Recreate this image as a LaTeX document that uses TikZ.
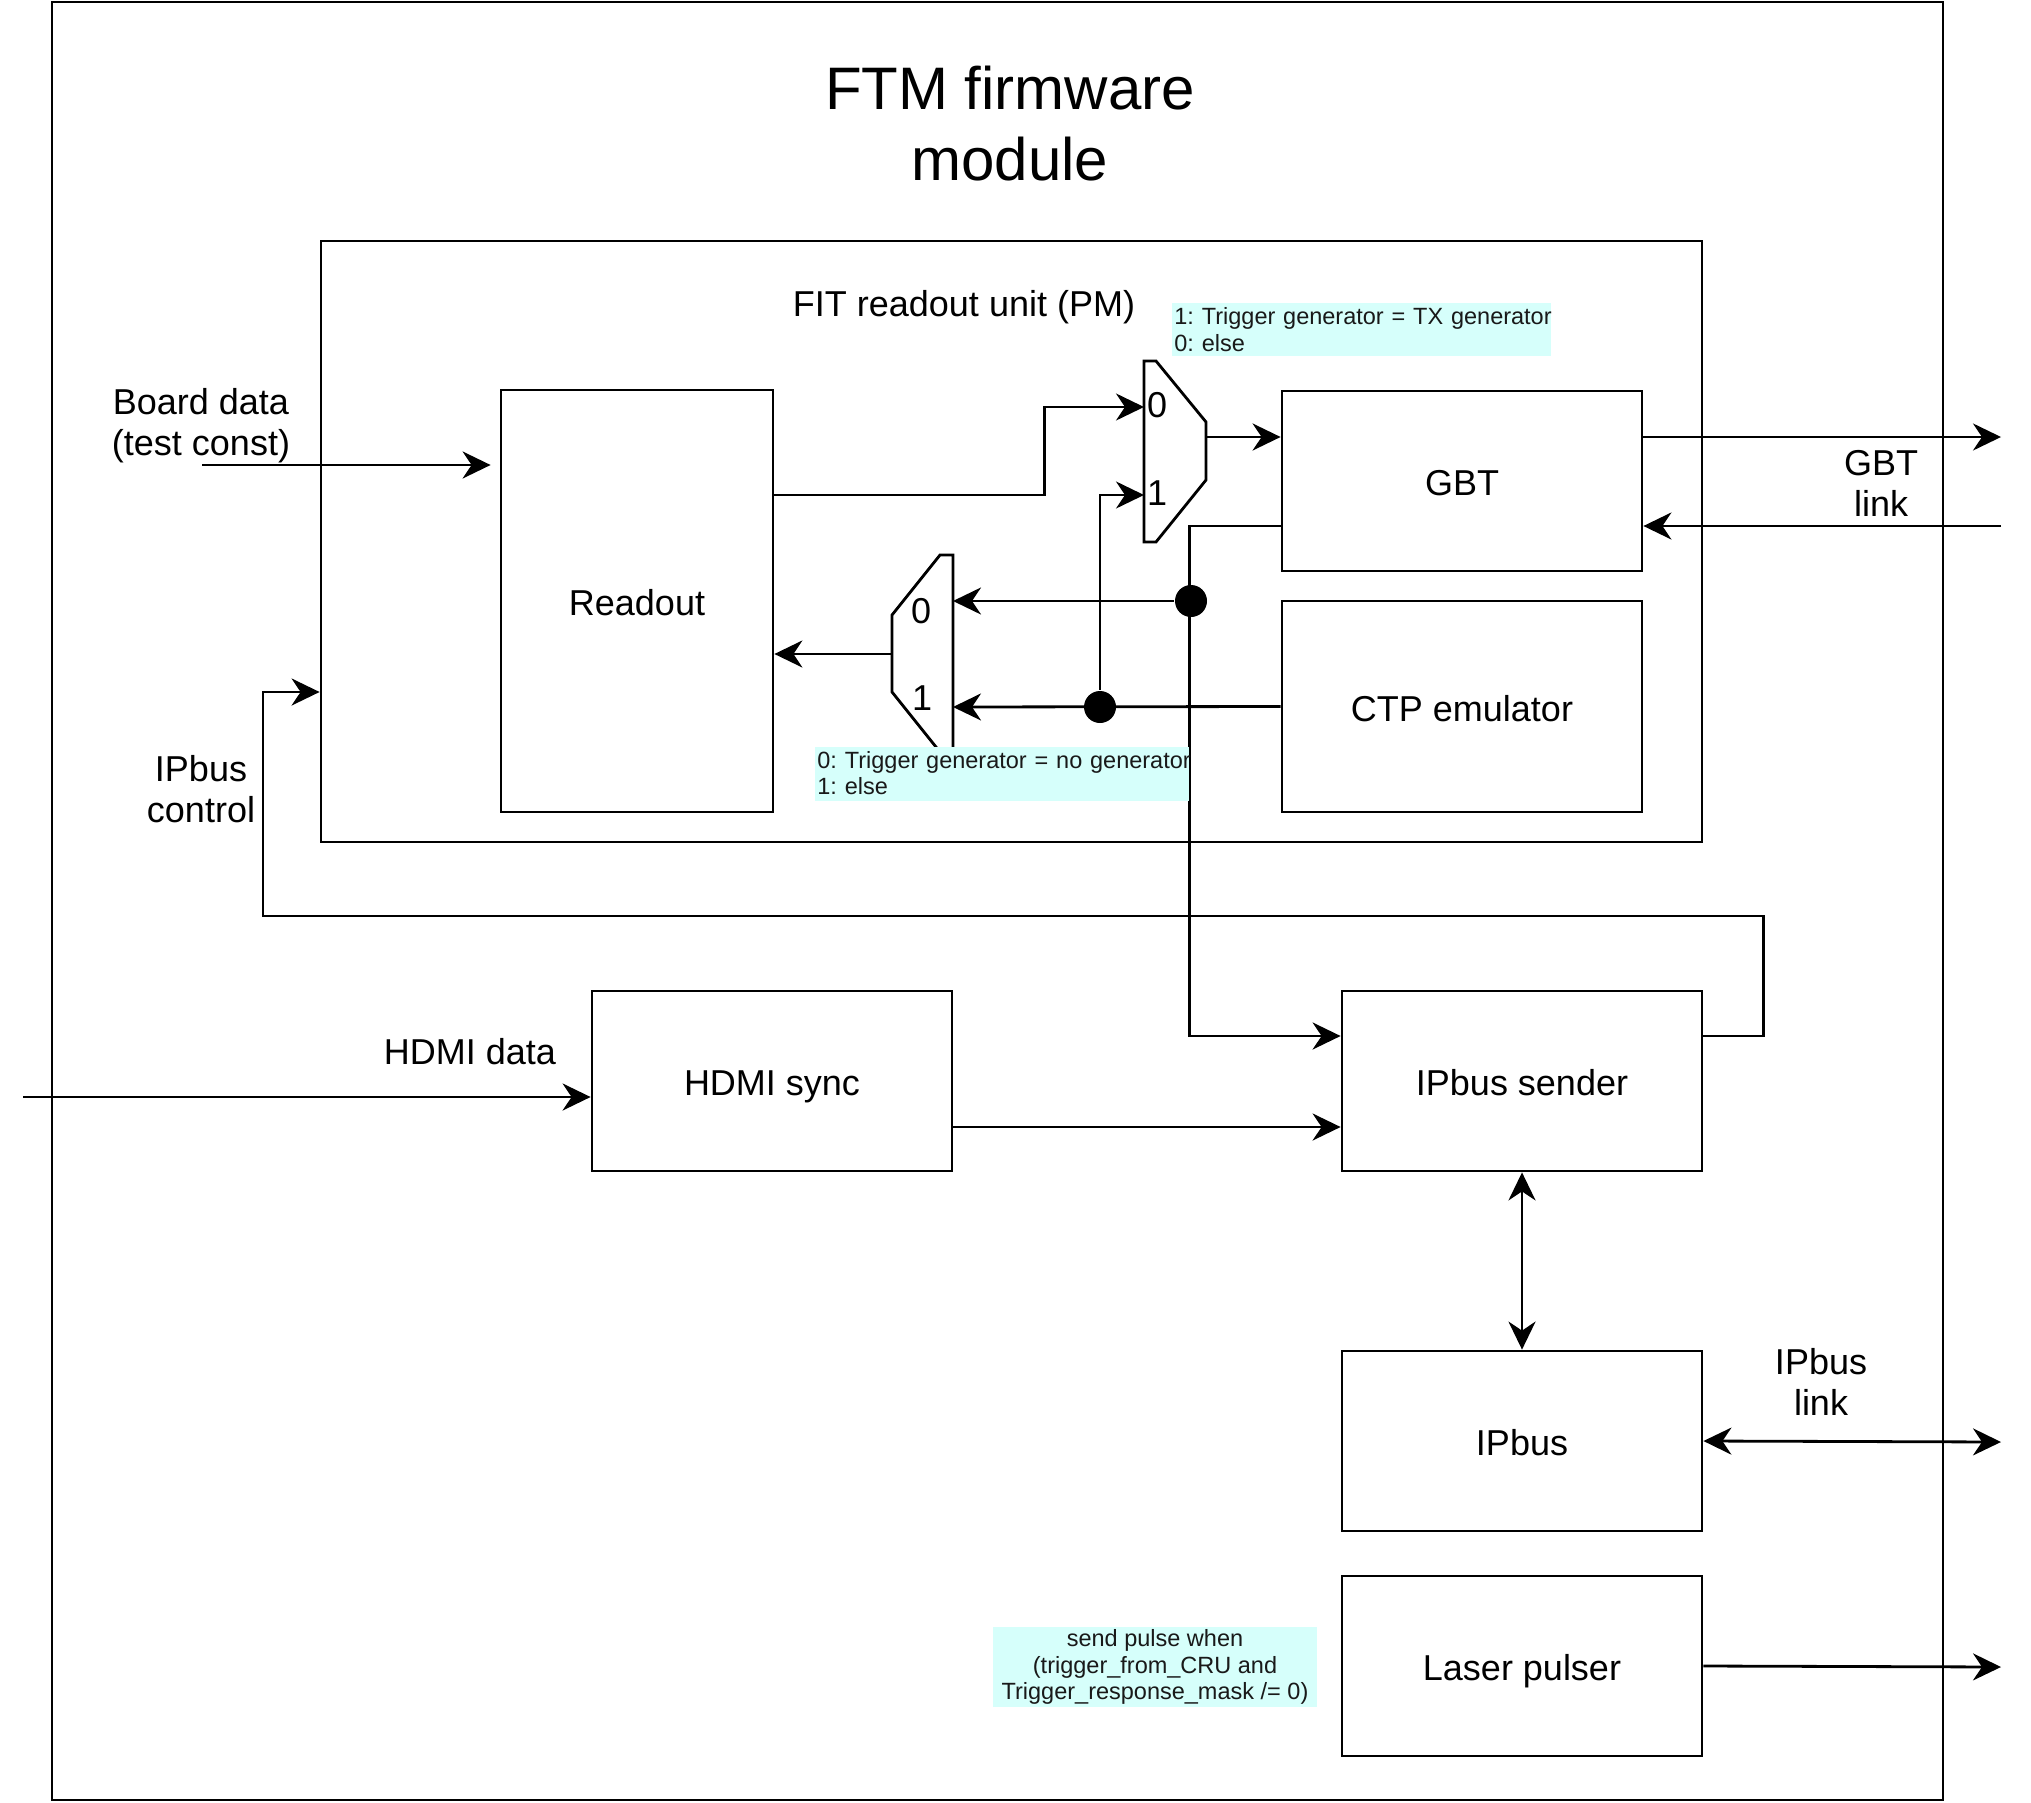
\documentclass[tikz,border=0pt]{standalone}
\usepackage{fontspec}
\setmainfont{Liberation Sans}
\usetikzlibrary{arrows.meta,calc}
\definecolor{annot}{HTML}{D6FFFB}
\newcommand\mynotefont{\fontsize{23.5}{26.5}\selectfont\frenchspacing\hyphenpenalty10000\relax}
\begin{document}
\begin{tikzpicture}[x=1pt,y=-1pt,
  line width=2.8pt,
  >={Stealth[length=28pt,width=27pt,inset=9pt]},
  arr/.style={->},
  darr/.style={<->},
  block/.style={draw, inner sep=0pt, font=\fontsize{36}{41}\selectfont, align=center, text height=33pt, text depth=4pt},
  lbl/.style={inner sep=0pt, font=\fontsize{36}{41}\selectfont, align=center},
  note/.style={inner sep=1pt, font=\mynotefont, text=black!90},
  notebg/.style={fill=annot},
  dot/.style={circle, fill=black, inner sep=0pt, minimum size=32pt}]
\useasboundingbox (0,0) rectangle (2031,1803);

% frames
\node[draw, inner sep=0pt, minimum width=1891pt, minimum height=1798pt] (ftm) at (997.5,901) {};
\node[lbl, font=\fontsize{60}{71}\selectfont] (title) at (1010,124) {FTM firmware\\module};
\node[draw, inner sep=0pt, minimum width=1381pt, minimum height=601pt] (pm) at (1011.5,541.5) {};
\node[lbl, text height=33pt, text depth=4pt] (pmlabel) at (964,302) {FIT readout unit (PM)};

% blocks
\node[block, minimum width=272pt, minimum height=422pt] (readout) at (637,601) {Readout};
\node[block, minimum width=360pt, minimum height=180pt] (gbt) at (1462,481) {GBT};
\node[block, minimum width=360pt, minimum height=211pt] (ctp) at (1462,706.5) {CTP emulator};
\node[block, minimum width=360pt, minimum height=180pt] (hdmi) at (772,1081) {HDMI sync};
\node[block, minimum width=360pt, minimum height=180pt] (sender) at (1522,1081) {IPbus sender};
\node[block, minimum width=360pt, minimum height=180pt] (ipbus) at (1522,1441) {IPbus};
\node[block, minimum width=360pt, minimum height=180pt] (laser) at (1522,1666) {Laser pulser};

% upper mux
\draw (1144,361) -- (1156,361) -- (1206,422) -- (1206,480) -- (1156,542) -- (1144,542) -- cycle;
\coordinate (mAin0) at (1144,407);
\coordinate (mAin1) at (1144,495);
\coordinate (mAout) at (1206,437);
\node[lbl] (mA0) at (1157,405) {0};
\node[lbl] (mA1) at (1157,493) {1};

% lower mux
\draw (953,555) -- (940,555) -- (892,615) -- (892,692) -- (940,752) -- (953,752) -- cycle;
\coordinate (mBin0) at (953,601);
\coordinate (mBin1) at (953,707);
\coordinate (mBout) at (892,654);
\node[lbl] (mB0) at (921,611) {0};
\node[lbl] (mB1) at (922,698) {1};

% junction dots
\node[dot] (d1) at (1191,601) {};
\node[dot] (d2) at (1100,707) {};

% outside labels and free ends
\node[lbl] (bdlabel) at (201,426) {Board data\\(test const)};
\node[lbl] (ctllabel) at (201,789) {IPbus\\control};
\node[lbl] (hdlabel) at (470,1052) {HDMI data};
\node[lbl] (gbtlink) at (1881,483) {GBT\\link};
\node[lbl] (iplink) at (1821,1382) {IPbus\\link};
\coordinate (bd) at (202,465);
\coordinate (ctl) at (263,692);
\coordinate (hd) at (23,1097);
\coordinate (gbo) at (2001,437);
\coordinate (gbi) at (2001,526);
\coordinate (ipl) at (2001,1442);
\coordinate (lsr) at (2001,1667);

% connectors
\draw[arr] ([yshift=106pt]readout.east) -- ++(270,0) |- (mAin0);
\draw[arr] (mAout) -- (gbt.west |- mAout);
\draw[arr] ([yshift=-45pt]gbt.west) -| ([xshift=-151pt,yshift=45pt]sender.west) -- ([yshift=45pt]sender.west);
\draw[arr] (d1) -- (mBin0);
\draw[arr] (ctp.west) -- (mBin1);
\draw[arr] (d2) |- (mAin1);
\draw[arr] (mBout) -- (readout.east |- mBout);
\draw[arr, shorten >=9pt] (bd) -- (readout.west |- bd);
\draw[arr] ([yshift=45pt]sender.east) -- ++(60,0) -- ++(0,-120) -| (ctl) -- (pm.west |- ctl);
\draw[arr] (hd) -- (hdmi.west |- hd);
\draw[arr] ([yshift=-46pt]hdmi.east) -- ([yshift=-46pt]sender.west);
\draw[darr] (sender.south) -- (ipbus.north);
\draw[darr] (ipbus.east) -- (ipl);
\draw[arr] (laser.east) -- (lsr);
\draw[arr] ([yshift=44pt]gbt.east) -- (gbo);
\draw[arr] (gbi) -- ([yshift=-45pt]gbt.east);

% annotations
\fill[notebg] (1172,303) rectangle (1551,356);
\node[note, anchor=north west, text width=420pt, align=left] (noteA) at (1172,305.5) {1: Trigger generator = TX generator\\0: else};
\fill[notebg] (815,747) rectangle (1189,801);
\node[note, anchor=north west, text width=420pt, align=left] (noteB) at (815,749) {0: Trigger generator = no generator\\1: else};
\node[note, fill=annot, align=center, minimum width=324pt, minimum height=80pt, inner sep=0pt] (noteC) at (1155,1667) {send pulse when\\(trigger\_from\_CRU and\\Trigger\_response\_mask /= 0)};
\end{tikzpicture}
\end{document}
